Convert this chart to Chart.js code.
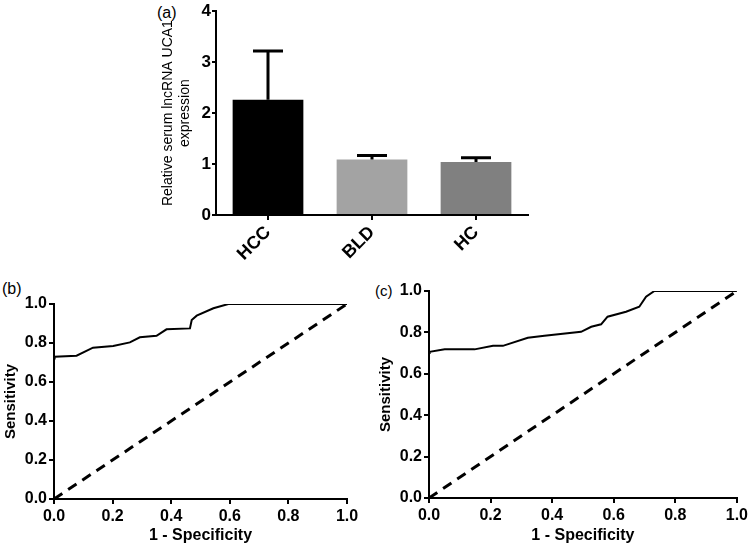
<!DOCTYPE html>
<html>
<head>
<meta charset="utf-8">
<script src="https://cdn.jsdelivr.net/npm/chart.js@4/dist/chart.umd.min.js"></script>
<style>
  body { margin: 0; background: #fff; width: 751px; height: 549px; position: relative; overflow: hidden;
         font-family: Arial, "Liberation Sans", sans-serif; }
  canvas { position: absolute; }
  .tag { position: absolute; font-size: 16px; color: #000; line-height: 18px; }
</style>
</head>
<body>
<span class="tag" style="left:157px;top:4px">(a)</span>
<span class="tag" style="left:2px;top:280px">(b)</span>
<span class="tag" style="left:375px;top:282px;font-size:15px">(c)</span>
<canvas id="panelA" width="390" height="270" style="left:150px;top:0"></canvas>
<canvas id="panelB" width="370" height="274" style="left:0;top:275px"></canvas>
<canvas id="panelC" width="376" height="274" style="left:375px;top:275px"></canvas>
<script>
// (a) serum UCA1 by group
const groups = ['HCC', 'BLD', 'HC'];
const barMeans = [2.26, 1.09, 1.04];
const barErrors = [0.96, 0.08, 0.085];

// (b) ROC curve
const rocBX = [0, 0.002, 0.077, 0.133, 0.202, 0.259, 0.293, 0.350, 0.384, 0.464, 0.470, 0.487, 0.544, 0.595, 1.0];
const rocBY = [0.72, 0.73, 0.735, 0.776, 0.785, 0.803, 0.829, 0.837, 0.870, 0.875, 0.918, 0.940, 0.978, 1.0, 1.0];

// (c) ROC curve
const rocCX = [0, 0.002, 0.051, 0.148, 0.208, 0.240, 0.321, 0.375, 0.494, 0.527, 0.559, 0.580, 0.640, 0.683, 0.705, 0.732, 1.0];
const rocCY = [0.70, 0.706, 0.718, 0.718, 0.735, 0.735, 0.774, 0.784, 0.803, 0.827, 0.839, 0.876, 0.900, 0.924, 0.972, 1.0, 1.0];

// reference line
const chanceX = [0, 1];
const chanceY = [0, 1];

const family = 'Arial, "Liberation Sans", sans-serif';

// draws the upper error bar + cap above every bar
const errorBars = {
  id: 'errorBars',
  afterDatasetsDraw(chart) {
    const ctx = chart.ctx;
    const y = chart.scales.y;
    ctx.save();
    ctx.strokeStyle = '#000';
    ctx.lineWidth = 3;
    chart.getDatasetMeta(0).data.forEach((bar, i) => {
      const top = y.getPixelForValue(barMeans[i] + barErrors[i]);
      ctx.beginPath();
      ctx.moveTo(bar.x, bar.y);
      ctx.lineTo(bar.x, top);
      ctx.moveTo(bar.x - 15, top);
      ctx.lineTo(bar.x + 15, top);
      ctx.stroke();
    });
    ctx.restore();
  }
};

const axisGrid = { drawOnChartArea: false, drawTicks: true, tickLength: 5, color: '#000', lineWidth: 2 };
const axisBorder = { display: true, color: '#000', width: 2 };

new Chart(document.getElementById('panelA'), {
  type: 'bar',
  data: {
    labels: groups,
    datasets: [{
      data: barMeans,
      backgroundColor: ['#000000', '#a3a3a3', '#808080'],
      borderWidth: 0,
      categoryPercentage: 1,
      barPercentage: 0.68
    }]
  },
  options: {
    responsive: false,
    animation: false,
    layout: { padding: { top: 10, right: 12, left: 0, bottom: 0 } },
    plugins: { legend: { display: false }, tooltip: { enabled: false } },
    scales: {
      x: {
        grid: Object.assign({}, axisGrid, { offset: false }),
        border: axisBorder,
        ticks: { color: '#000', font: { family, size: 18, weight: 'bold' }, minRotation: 45, maxRotation: 45, padding: 2 },
        afterFit(s) { s.height = 55; }
      },
      y: {
        min: 0, max: 4,
        grid: Object.assign({}, axisGrid, { tickLength: 4 }),
        border: axisBorder,
        ticks: { stepSize: 1, color: '#000', font: { family, size: 17, weight: 'bold' }, padding: 1 },
        title: { display: true, text: ['Relative serum lncRNA UCA1', 'expression'], color: '#000',
                 font: { family, size: 14 }, padding: { top: 10, bottom: 4 } },
        afterFit(s) { s.width = 66; }
      }
    }
  },
  plugins: [errorBars]
});

function rocChart(id, xs, ys, yWidth, xHeight, padding) {
  const curve = xs.map((x, i) => ({ x, y: ys[i] }));
  const chance = chanceX.map((x, i) => ({ x, y: chanceY[i] }));
  const tickFont = { family, size: 16, weight: 'bold' };
  return new Chart(document.getElementById(id), {
    type: 'scatter',
    data: {
      datasets: [
        { data: curve, showLine: true, borderColor: '#000', borderWidth: 2, pointRadius: 0, tension: 0 },
        { data: chance, showLine: true, borderColor: '#000', borderWidth: 3, borderDash: [10, 7], pointRadius: 0 }
      ]
    },
    options: {
      responsive: false,
      animation: false,
      layout: { padding },
      plugins: { legend: { display: false }, tooltip: { enabled: false } },
      scales: {
        x: {
          type: 'linear', min: 0, max: 1,
          grid: axisGrid, border: axisBorder,
          ticks: { stepSize: 0.2, color: '#000', font: tickFont, padding: 3, callback: v => v.toFixed(1) },
          title: { display: true, text: '1 - Specificity', color: '#000', font: { family, size: 16, weight: 'bold' }, padding: { top: 3 } },
          afterFit(s) { s.height = xHeight; }
        },
        y: {
          type: 'linear', min: 0, max: 1,
          grid: axisGrid, border: axisBorder,
          ticks: { stepSize: 0.2, color: '#000', font: tickFont, padding: 2, callback: v => v.toFixed(1) },
          title: { display: true, text: 'Sensitivity', color: '#000', font: { family, size: 15, weight: 'bold' }, padding: { top: 2, bottom: 3 } },
          afterFit(s) { s.width = yWidth; }
        }
      }
    }
  });
}

rocChart('panelB', rocBX, rocBY, 54, 50, { top: 29, right: 23, left: 0, bottom: 0 });
rocChart('panelC', rocCX, rocCY, 54, 51, { top: 16, right: 13, left: 0, bottom: 0 });
</script>
</body>
</html>
